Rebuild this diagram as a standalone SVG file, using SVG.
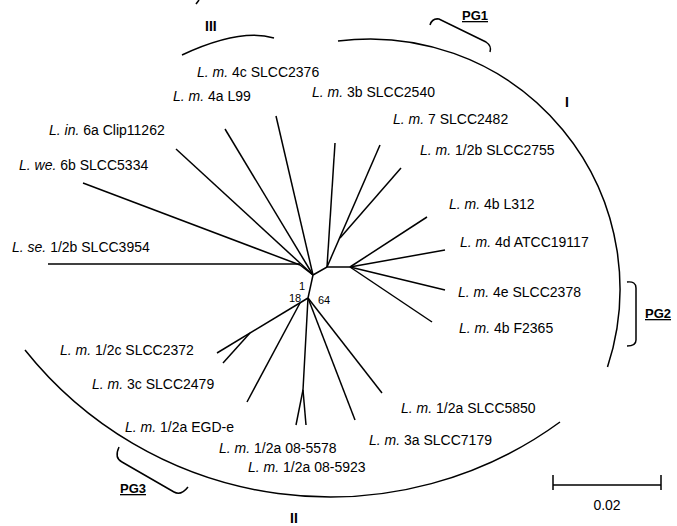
<svg xmlns="http://www.w3.org/2000/svg" width="677" height="526" viewBox="0 0 677 526">
<style>
.br{stroke:#000;stroke-width:1.5;fill:none;stroke-linecap:butt}
.arc{stroke:#000;stroke-width:1.5;fill:none}
text{font-family:"Liberation Sans",Arial,Helvetica,sans-serif;fill:#000}
.lb{font-size:14px}
.it{font-style:italic}
.rn{font-size:14px;font-weight:bold}
.pg{font-size:13px;font-weight:bold;text-decoration:underline}
.bs{font-size:11px}
</style>
<rect width="677" height="526" fill="#fff"/>
<g id="connectors">
<path class="br" d="M313,275 L327,267 L350,267"/>
<path class="br" d="M313,275 L308,298"/>
<path class="br" d="M313,275 L300,265"/>
<path class="br" d="M48,264 L300,264"/>
<path class="br" d="M83,183 L300,265"/>
<path class="br" d="M176,149 L313,275"/>
<path class="br" d="M225,129 L313,275"/>
<path class="br" d="M276,116 L313,275"/>
<path class="br" d="M335,143 L327,267"/>
<path class="br" d="M380,145 L327,267"/>
<path class="br" d="M401,168 L340,238"/>
<path class="br" d="M427,217 L350,267"/>
<path class="br" d="M445,250 L350,267"/>
<path class="br" d="M445,290 L350,267"/>
<path class="br" d="M432,322 L350,267"/>
<path class="br" d="M308,298 L217,353"/>
<path class="br" d="M250,333 L223,363"/>
<path class="br" d="M300,303 L247,402"/>
<path class="br" d="M308,298 L303,390 L296,425"/>
<path class="br" d="M303,390 L306,425"/>
<path class="br" d="M308,298 L355,420"/>
<path class="br" d="M308,298 L382,393"/>
</g>
<g id="groups">
<path id="arc-I" class="arc" d="M338,41 A250,250 0 0 1 607.5,367"/>
<path id="arc-II" class="arc" d="M25,350 A390,390 0 0 0 560,422"/>
<path id="arc-III" class="arc" d="M182,55 Q240,28 274,38"/>
<path id="bracket-PG1" class="arc" d="M430,25 Q432,18 439,19 L486,42 Q492,46 490,52"/>
<path id="bracket-PG2" class="arc" d="M627,282 Q636,281 636,288 L636,340 Q636,346 627,346"/>
<path id="bracket-PG3" class="arc" d="M119,447 Q114,458 122,462 L174,492 Q181,496 188,487"/>
<text class="rn" x="205" y="31">III</text>
<text class="rn" x="565" y="107">I</text>
<text class="rn" x="290" y="523">II</text>
<text class="pg" x="462" y="20">PG1</text>
<text class="pg" x="645" y="318">PG2</text>
<text class="pg" x="120" y="493">PG3</text>
</g>
<g id="bootstrap">
<text class="bs" x="299" y="290">1</text>
<text class="bs" x="289" y="302">18</text>
<text class="bs" x="318" y="304">64</text>
</g>
<g id="n-4c"><text class="lb" x="197" y="77"><tspan class="it">L. m.</tspan> 4c SLCC2376</text></g>
<g id="n-4a"><text class="lb" x="173" y="101"><tspan class="it">L. m.</tspan> 4a L99</text></g>
<g id="n-3b"><text class="lb" x="312" y="97"><tspan class="it">L. m.</tspan> 3b SLCC2540</text></g>
<g id="n-7"><text class="lb" x="393" y="124"><tspan class="it">L. m.</tspan> 7 SLCC2482</text></g>
<g id="n-in"><text class="lb" x="49" y="135"><tspan class="it">L. in.</tspan> 6a Clip11262</text></g>
<g id="n-12b2755"><text class="lb" x="420" y="155"><tspan class="it">L. m.</tspan> 1/2b SLCC2755</text></g>
<g id="n-we"><text class="lb" x="19" y="170"><tspan class="it">L. we.</tspan> 6b SLCC5334</text></g>
<g id="n-4bL312"><text class="lb" x="449" y="209"><tspan class="it">L. m.</tspan> 4b L312</text></g>
<g id="n-4d"><text class="lb" x="460" y="247"><tspan class="it">L. m.</tspan> 4d ATCC19117</text></g>
<g id="n-se"><text class="lb" x="12" y="252"><tspan class="it">L. se.</tspan> 1/2b SLCC3954</text></g>
<g id="n-4e"><text class="lb" x="458" y="297"><tspan class="it">L. m.</tspan> 4e SLCC2378</text></g>
<g id="n-4bF2365"><text class="lb" x="459" y="333"><tspan class="it">L. m.</tspan> 4b F2365</text></g>
<g id="n-12c"><text class="lb" x="60" y="355"><tspan class="it">L. m.</tspan> 1/2c SLCC2372</text></g>
<g id="n-3c"><text class="lb" x="92" y="389"><tspan class="it">L. m.</tspan> 3c SLCC2479</text></g>
<g id="n-5850"><text class="lb" x="401" y="413"><tspan class="it">L. m.</tspan> 1/2a SLCC5850</text></g>
<g id="n-egde"><text class="lb" x="125" y="432"><tspan class="it">L. m.</tspan> 1/2a EGD-e</text></g>
<g id="n-3a"><text class="lb" x="369" y="445"><tspan class="it">L. m.</tspan> 3a SLCC7179</text></g>
<g id="n-5578"><text class="lb" x="219" y="453"><tspan class="it">L. m.</tspan> 1/2a 08-5578</text></g>
<g id="n-5923"><text class="lb" x="248" y="472"><tspan class="it">L. m.</tspan> 1/2a 08-5923</text></g>
<g id="scale">
<path class="br" d="M553,485 L661,485 M553,475 L553,490 M661,475 L661,490"/>
<text class="lb" x="607" y="510" text-anchor="middle">0.02</text>
</g>
<path class="br" d="M196,4 L199,0" stroke-width="1"/>
</svg>
